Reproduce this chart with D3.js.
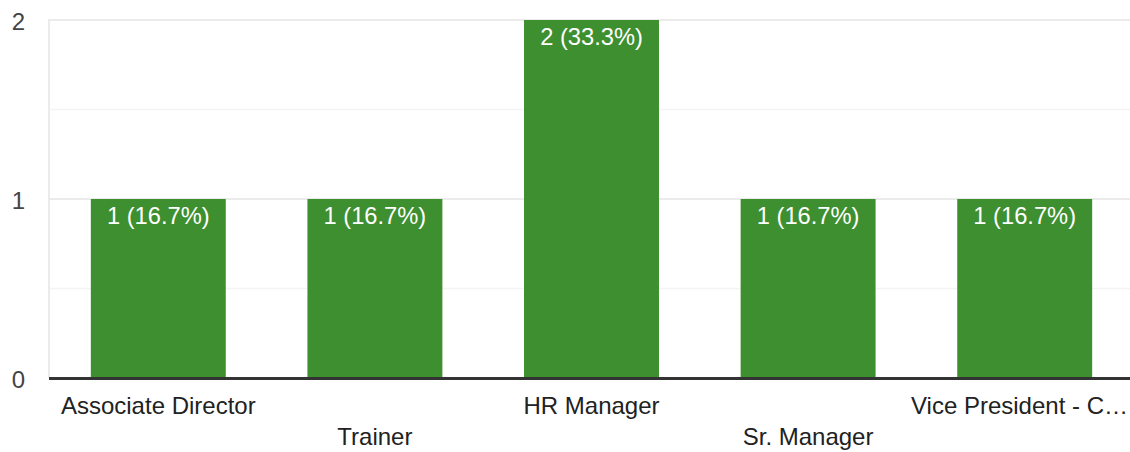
<!DOCTYPE html>
<html>
<head>
<meta charset="utf-8">
<script src="https://cdn.jsdelivr.net/npm/d3@7"></script>
<style>
  html, body { margin: 0; padding: 0; background: #fff; }
  svg { display: block; font-family: Arial, "Liberation Sans", sans-serif; }
</style>
</head>
<body>
<svg id="chart" width="1130" height="452"></svg>
<script>
// Responses per job title
const categories = ["Associate Director", "Trainer", "HR Manager", "Sr. Manager", "Vice President - C…"];
const counts = [1, 1, 2, 1, 1];
const percents = ["16.7%", "16.7%", "33.3%", "16.7%", "16.7%"];
const yTicks = [0, 1, 2];
const yGrid = [0.5, 1, 1.5, 2];

const svg = d3.select("#chart");
const W = 1130, H = 452;
const plotLeft = 50, plotRight = 1133, plotTop = 20, plotBottom = 378;

const x = d3.scaleBand()
  .domain(categories)
  .range([plotLeft, plotRight])
  .paddingInner(0.377)
  .paddingOuter(0.1885);

const y = d3.scaleLinear().domain([0, 2]).range([plotBottom, plotTop]);

// light gridlines
svg.append("g").selectAll("line")
  .data(yGrid)
  .join("line")
  .attr("x1", plotLeft - 1).attr("x2", W)
  .attr("y1", d => y(d)).attr("y2", d => y(d))
  .attr("stroke", d => Number.isInteger(d) ? "#ebebeb" : "#f4f4f4")
  .attr("stroke-width", d => Number.isInteger(d) ? 2 : 1.5);

// left frame line
svg.append("line")
  .attr("x1", plotLeft - 1).attr("x2", plotLeft - 1)
  .attr("y1", y(2) - 1).attr("y2", plotBottom)
  .attr("stroke", "#ebebeb").attr("stroke-width", 2);

// bars
svg.append("g").selectAll("rect")
  .data(categories)
  .join("rect")
  .attr("x", d => x(d))
  .attr("width", x.bandwidth())
  .attr("y", (d, i) => y(counts[i]))
  .attr("height", (d, i) => y(0) - y(counts[i]))
  .attr("fill", "#3d8f2f");

// value labels inside bars
svg.append("g").selectAll("text")
  .data(categories)
  .join("text")
  .attr("x", d => x(d) + x.bandwidth() / 2)
  .attr("y", (d, i) => y(counts[i]) + 25)
  .attr("text-anchor", "middle")
  .attr("fill", "#ffffff")
  .attr("font-size", 23.7)
  .text((d, i) => `${counts[i]} (${percents[i]})`);

// baseline
svg.append("line")
  .attr("x1", plotLeft - 1).attr("x2", W)
  .attr("y1", y(0) + 0.5).attr("y2", y(0) + 0.5)
  .attr("stroke", "#333333").attr("stroke-width", 3);

// y tick labels
const yAxis = d3.axisLeft(y).tickValues(yTicks).tickFormat(d3.format("d")).tickSize(0).tickPadding(0);
const ya = svg.append("g").attr("transform", "translate(25,0)").call(yAxis);
ya.select(".domain").remove();
ya.selectAll("text")
  .attr("font-size", 24)
  .attr("font-family", "Arial, 'Liberation Sans', sans-serif")
  .attr("fill", "#444444")
  .attr("dy", null)
  .attr("y", 9)
  .attr("text-anchor", "end");

// category labels, staggered on two rows; the last one is kept inside the frame
svg.append("g").selectAll("text")
  .data(categories)
  .join("text")
  .attr("x", (d, i) => i === categories.length - 1 ? W - 2 : x(d) + x.bandwidth() / 2)
  .attr("y", (d, i) => i % 2 === 0 ? 414 : 445)
  .attr("text-anchor", (d, i) => i === categories.length - 1 ? "end" : "middle")
  .attr("fill", "#222222")
  .attr("font-size", 24)
  .text(d => d);
</script>
</body>
</html>
